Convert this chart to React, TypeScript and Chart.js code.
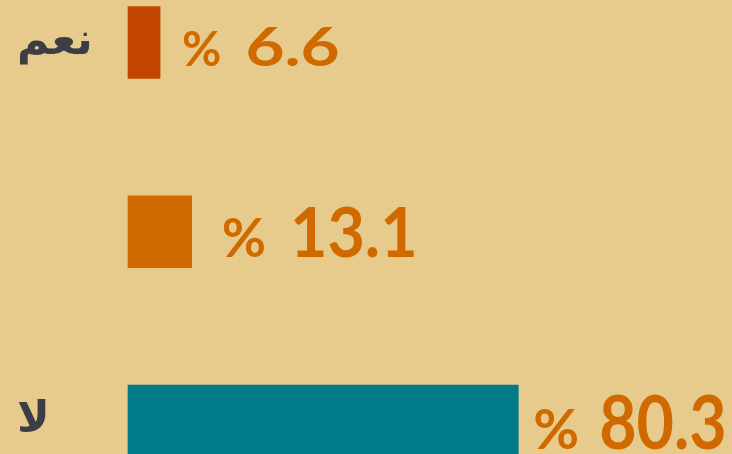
import React, { useEffect, useRef } from "react";
import { Chart, registerables } from "chart.js";

Chart.register(...registerables);

const categories: string[] = ["نعم", "", "لا"];
const values: number[] = [6.6, 13.1, 80.3];
const barColors: string[] = ["#C24600", "#D06A00", "#007B89"];

const BG = "#E6CB8D";
const LABEL_COLOR = "#D06A00";
const AXIS_TEXT = "#3D3D45";
const NUM_SIZES = [54, 68, 75];
const NUM_SCALE_X = [1.25, 0.95, 0.86];
const PCT_SIZES = [48, 54, 56];
const BAR_GAPS = [22, 30, 15];
const PCT_NUM_GAPS = [24, 24, 20];
const Y_SHIFT = [4, 0, 0];

const valueLabelPlugin = {
  id: "valueLabels",
  afterDatasetsDraw(chart: any) {
    const ctx = chart.ctx as CanvasRenderingContext2D;
    const meta = chart.getDatasetMeta(0);
    meta.data.forEach((bar: any, i: number) => {
      const numText = values[i].toFixed(1);
      ctx.save();
      ctx.fillStyle = LABEL_COLOR;
      ctx.textBaseline = "alphabetic";
      ctx.textAlign = "left";
      ctx.font = `bold ${NUM_SIZES[i]}px Lato, "DejaVu Sans", sans-serif`;
      const m = ctx.measureText(numText);
      const baseline = bar.y + m.actualBoundingBoxAscent / 2 + Y_SHIFT[i];
      let x = bar.x + BAR_GAPS[i];
      ctx.font = `bold ${PCT_SIZES[i]}px Lato, "DejaVu Sans", sans-serif`;
      ctx.fillText("%", x, baseline);
      x += ctx.measureText("%").width + PCT_NUM_GAPS[i];
      ctx.font = `bold ${NUM_SIZES[i]}px Lato, "DejaVu Sans", sans-serif`;
      ctx.translate(x, baseline);
      ctx.scale(NUM_SCALE_X[i], 1);
      ctx.fillText(numText, 0, 0);
      ctx.restore();
    });
  },
};

export default function App() {
  const canvasRef = useRef<HTMLCanvasElement | null>(null);

  useEffect(() => {
    document.body.style.margin = "0";
    const canvas = canvasRef.current;
    if (!canvas) return;
    const chart = new Chart(canvas, {
      type: "bar",
      data: {
        labels: categories,
        datasets: [
          {
            data: values,
            backgroundColor: barColors,
            borderWidth: 0,
            barThickness: 72,
            clip: false as any,
          },
        ],
      },
      options: {
        indexAxis: "y",
        responsive: false,
        animation: false,
        layout: { padding: { top: 42.5, bottom: 33, left: 17, right: 118 } },
        plugins: {
          legend: { display: false },
          tooltip: { enabled: false },
        },
        scales: {
          x: {
            display: false,
            min: 0,
            max: 100,
          },
          y: {
            type: "category",
            offset: false,
            border: { display: false },
            grid: { display: false, drawTicks: false },
            ticks: {
              color: AXIS_TEXT,
              font: { family: '"DejaVu Sans", sans-serif', size: 44, weight: "bold" },
              crossAlign: "far",
              padding: 0,
              autoSkip: false,
            },
            afterFit(scale: any) {
              scale.width = 111;
            },
          },
        },
      },
      plugins: [valueLabelPlugin],
    });
    return () => chart.destroy();
  }, []);

  return (
    <div style={{ width: 732, height: 454, background: BG, overflow: "hidden" }}>
      <canvas ref={canvasRef} width={732} height={454} style={{ display: "block" }} />
    </div>
  );
}
